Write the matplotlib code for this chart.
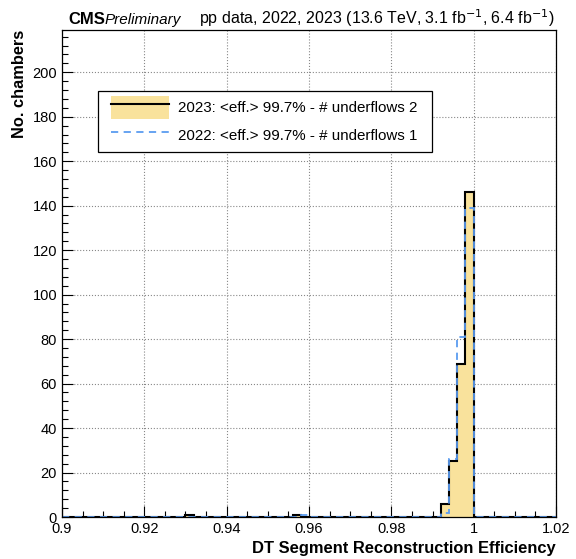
import numpy as np
import matplotlib.pyplot as plt
from matplotlib.ticker import MultipleLocator
from matplotlib.patches import Patch, Rectangle
from matplotlib.lines import Line2D

plt.rcParams['font.family'] = ['Liberation Sans', 'DejaVu Sans']

# DT segment efficiency per chamber, 60 bins of 0.002 between 0.9 and 1.02
edges = np.round(np.linspace(0.9, 1.02, 61), 4)

# non-empty bins: (bin lower edge, chambers)
bins_2023 = {0.930: 1, 0.956: 1, 0.992: 6, 0.994: 25, 0.996: 69, 0.998: 146}
bins_2022 = {0.958: 1, 0.992: 2, 0.994: 26, 0.996: 81, 0.998: 139}

def fill(bins):
    counts = np.zeros(len(edges) - 1)
    for lo, n in bins.items():
        counts[np.argmin(np.abs(edges[:-1] - lo))] = n
    return counts

counts_2023 = fill(bins_2023)
counts_2022 = fill(bins_2022)

label_2023 = '2023: <eff.> 99.7% - # underflows 2'
label_2022 = '2022: <eff.> 99.7% - # underflows 1'

gold = '#f9e29c'
blue = '#5b9cf0'

fig = plt.figure(figsize=(5.76, 5.59), dpi=100)
ax = fig.add_axes([0.1076, 0.0751, 0.8577, 0.8712])

ax.stairs(counts_2023, edges, fill=True, color=gold)
ax.stairs(counts_2023, edges, color='black', linewidth=1.5)
ax.stairs(counts_2022, edges, color=blue, linewidth=1.3, linestyle=(0, (4, 3)))

ax.set_xlim(0.9, 1.02)
ax.set_ylim(0, 1.5 * counts_2023.max())
ax.xaxis.set_major_locator(MultipleLocator(0.02))
ax.xaxis.set_minor_locator(MultipleLocator(0.005))
ax.yaxis.set_major_locator(MultipleLocator(20))
ax.yaxis.set_minor_locator(MultipleLocator(4))
ax.xaxis.set_major_formatter(plt.FuncFormatter(lambda v, p: f'{v:g}'))
ax.tick_params(which='both', direction='in', labelsize=10.5, top=False, right=False)
ax.tick_params(which='major', length=8, width=0.8)
ax.tick_params(which='minor', length=4, width=0.8)
ax.grid(True, which='major', linestyle=':', color='#888888', linewidth=0.8)
ax.set_axisbelow(True)
for s in ax.spines.values():
    s.set_linewidth(0.9)

ax.set_xlabel('DT Segment Reconstruction Efficiency', fontsize=11.9, fontweight='bold', loc='right')
ax.set_ylabel('No. chambers', fontsize=11.8, fontweight='bold', loc='top')

# legend box drawn separately so its padding is wider than tall
ax.add_patch(Rectangle((0.073, 0.7495), 0.676, 0.1252, transform=ax.transAxes,
                       facecolor='white', edgecolor='black', linewidth=0.9, zorder=4.5))
handles = [
    (Patch(facecolor=gold, edgecolor='none'), Line2D([], [], color='black', linewidth=1.5)),
    Line2D([], [], color=blue, linewidth=1.3, linestyle=(0, (4, 3))),
]
leg = ax.legend(handles, [label_2023, label_2022], loc='upper left',
                bbox_to_anchor=(0.0992, 0.8645), borderaxespad=0, borderpad=0,
                fontsize=10.9, frameon=False, handlelength=3.8, handleheight=1.95,
                handletextpad=0.65, labelspacing=0.34)

fig.text(0.118, 0.957, 'CMS', fontsize=12, fontweight='bold', ha='left', va='baseline')
fig.text(0.182, 0.957, 'Preliminary', fontsize=11, style='italic', ha='left', va='baseline')
fig.text(0.963, 0.957, r'pp data, 2022, 2023 (13.6 TeV, 3.1 fb$^{-1}$, 6.4 fb$^{-1}$)',
         fontsize=11.5, ha='right', va='baseline')

fig.savefig('out.png', dpi=100)
